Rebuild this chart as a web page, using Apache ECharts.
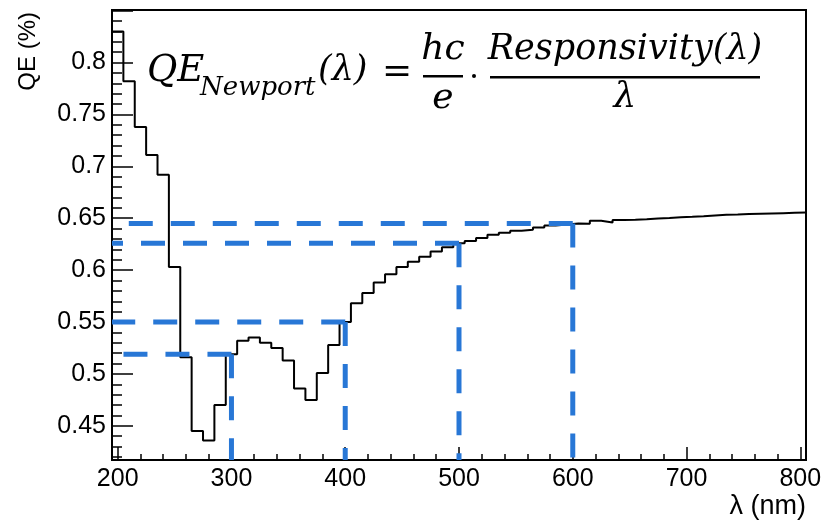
<!DOCTYPE html>
<html>
<head>
<meta charset="utf-8">
<script src="https://cdn.jsdelivr.net/npm/echarts@6/dist/echarts.min.js"></script>
<style>html,body{margin:0;padding:0;background:#fff}#c{width:826px;height:522px}</style>
</head>
<body>
<div id="c"></div>
<script>
// Bin centres (nm), bin width 10 nm
const binCenters = [200,210,220,230,240,250,260,270,280,290,300,310,320,330,340,350,360,370,380,390,400,410,420,430,440,450,460,470,480,490,500,510,520,530,540,550,560,570,580,590,600,610,620,630,640,650,660,670,680,690,700,710,720,730,740,750,760,770,780,790,800];
const binWidth = 10;
// QE values per bin
const qeValues = [0.830,0.782,0.738,0.711,0.692,0.603,0.516,0.445,0.436,0.470,0.519,0.532,0.535,0.530,0.525,0.513,0.486,0.475,0.501,0.528,0.550,0.568,0.578,0.588,0.596,0.603,0.608,0.613,0.618,0.622,0.626,0.628,0.631,0.634,0.636,0.638,0.639,0.641,0.643,0.644,0.645,0.6446,0.6475,0.6459,0.6482,0.6485,0.6490,0.6497,0.6503,0.6510,0.6514,0.6520,0.6527,0.6533,0.6536,0.6540,0.6543,0.6546,0.6549,0.6552,0.6555];
// Guide-line markers
const markLambda = [300,400,500,600];
const markQE = [0.519,0.550,0.626,0.645];
const xTickLabels = ['200','300','400','500','600','700','800'];
const yTickLabels = ['0.45','0.5','0.55','0.6','0.65','0.7','0.75','0.8'];

const xMin = 195, xMax = 805, yMin = 0.4171, yMax = 0.8506;
const blue = '#2877d6';
const labelFont = 'Liberation Sans';

const histData = binCenters.map((c,i)=>[c - binWidth/2, qeValues[i]]);
histData.push([binCenters[binCenters.length-1] + binWidth/2, qeValues[qeValues.length-1]]);

const series = [{
  type:'line', data: histData, step:'end', showSymbol:false, symbol:'none',
  lineStyle:{color:'#000', width:2}, z:3, animation:false
}];
markLambda.forEach((l,i)=>{
  series.push({type:'line', data:[[l,markQE[i]],[xMin,markQE[i]]], showSymbol:false, symbol:'none',
    lineStyle:{color:blue,width:5,type:[24,18]}, z:4, animation:false});
  series.push({type:'line', data:[[l,markQE[i]],[l,yMin]], showSymbol:false, symbol:'none',
    lineStyle:{color:blue,width:5,type:[24,18]}, z:4, animation:false});
});

const chart = echarts.init(document.getElementById('c'), null, {renderer:'canvas'});
const eqFont = 'DejaVu Serif';
function eq(text, x, y, size, italic, align){
  return {type:'text', x:x, y:y, style:{text:text, fontFamily:eqFont, fontSize:size, fontStyle:italic?'italic':'normal',
    fill:'#000', align:align||'left', verticalAlign:'middle'}};
}
chart.setOption({
  animation:false,
  grid:{left:112, right:20, top:10, bottom:62, show:true, borderColor:'#000', borderWidth:2, backgroundColor:'transparent'},
  xAxis:{type:'value', min:xMin, max:xMax, minInterval:100, maxInterval:100,
    axisLine:{show:true, lineStyle:{color:'#000', width:2}},
    axisTick:{show:true, inside:true, length:13, lineStyle:{color:'#000', width:1.5}},
    minorTick:{show:true, splitNumber:5, length:6, lineStyle:{color:'#000', width:1.5}},
    splitLine:{show:false},
    axisLabel:{margin:7, color:'#000', fontFamily:labelFont, fontSize:25,
      formatter:(v)=>{const s=String(Math.round(v)); return xTickLabels.indexOf(s)>=0 && Math.abs(v-Math.round(v))<1e-6 ? s : '';}}
  },
  yAxis:{type:'value', min:yMin, max:yMax, minInterval:0.05, maxInterval:0.05,
    axisLine:{show:true, lineStyle:{color:'#000', width:2}},
    axisTick:{show:true, inside:true, length:21, lineStyle:{color:'#000', width:1.5}},
    minorTick:{show:true, splitNumber:5, length:10, lineStyle:{color:'#000', width:1.5}},
    splitLine:{show:false},
    axisLabel:{margin:6, color:'#000', fontFamily:labelFont, fontSize:25,
      formatter:(v)=>{const s=String(+v.toFixed(2)); return yTickLabels.indexOf(s)>=0 ? s : '';}}
  },
  series: series,
  graphic:[
    {type:'text', x:28, y:12, rotation:Math.PI/2, style:{text:'QE (%)', fontFamily:labelFont, fontSize:24, fill:'#000', align:'right', verticalAlign:'middle'}},
    {type:'text', x:806, y:507, style:{text:'λ (nm)', fontFamily:labelFont, fontSize:27, fill:'#000', align:'right', verticalAlign:'middle'}},
    eq('QE', 147, 71, 37, true),
    eq('Newport', 200, 88, 26, true),
    eq('(λ)', 318, 71, 35, true),
    eq('=', 397, 73, 36, false, 'center'),
    eq('hc', 443, 50, 36, true, 'center'),
    {type:'rect', shape:{x:423, y:75, width:40, height:2.5}, style:{fill:'#000'}},
    eq('e', 443, 99, 36, true, 'center'),
    {type:'circle', shape:{cx:474, cy:76, r:2}, style:{fill:'#000'}},
    eq('Responsivity(λ)', 625, 50, 35, true, 'center'),
    {type:'rect', shape:{x:490, y:76, width:270, height:2.5}, style:{fill:'#000'}},
    eq('λ', 625, 98, 36, true, 'center')
  ]
});
</script>
</body>
</html>
